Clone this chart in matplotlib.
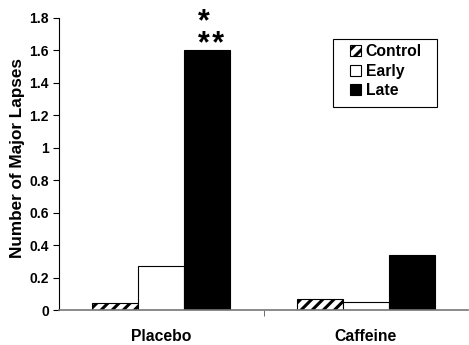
import matplotlib
matplotlib.use("Agg")
import matplotlib.pyplot as plt
from matplotlib.patches import Rectangle
import numpy as np

categories = ["Placebo", "Caffeine"]
series = ["Control", "Early", "Late"]
control = [0.045, 0.066]
early = [0.27, 0.047]
late = [1.6, 0.336]
yticks = [0, 0.2, 0.4, 0.6, 0.8, 1, 1.2, 1.4, 1.6, 1.8]
ytick_labels = ["0", "0.2", "0.4", "0.6", "0.8", "1", "1.2", "1.4", "1.6", "1.8"]
stars = "*\n*\u200a*"

plt.rcParams['font.family'] = ['Liberation Sans', 'DejaVu Sans']
plt.rcParams['hatch.linewidth'] = 2.2

fig = plt.figure(figsize=(4.69, 3.45), dpi=100)
ax = fig.add_axes([0.1258, 0.1014, 0.8722, 0.8466])

x = np.arange(len(categories))
w = 0.225
ax.bar(x - w, control, w, color="white", edgecolor="black", hatch="///", linewidth=0.8, label="Control")
ax.bar(x, early, w, color="white", edgecolor="black", linewidth=0.8, label="Early")
ax.bar(x + w, late, w, color="black", edgecolor="black", linewidth=0.8, label="Late")

# significance stars above the Placebo / Late bar
ax.annotate(stars, xy=(x[0] + w, late[0]), xytext=(2.9, -1.8), textcoords="offset points",
            ha="center", va="baseline", multialignment="left", linespacing=0.66,
            fontsize=22, fontweight="bold")

ax.set_xlim(-0.5, 1.5)
ax.set_ylim(0, 1.8)
ax.set_yticks(yticks)
ax.set_yticklabels(ytick_labels, fontsize=10, fontweight="bold")
ax.set_xticks(x)
ax.set_xticklabels(categories, fontsize=11.3, fontweight="bold")
ax.tick_params(axis="x", length=0, pad=14)
ax.set_xticks([0.5], minor=True)
ax.tick_params(axis="x", which="minor", length=4, color="#555555")
ax.tick_params(axis="y", length=4.3, width=0.8, pad=3)
ax.set_ylabel("Number of Major Lapses", fontsize=12.3, fontweight="bold")
ax.yaxis.set_label_coords(-0.083, 0.52)

for s in ["top", "right"]:
    ax.spines[s].set_visible(False)
ax.spines["left"].set_linewidth(0.8)
ax.spines["bottom"].set_color("#777777")
ax.spines["bottom"].set_linewidth(1.2)

frame = Rectangle((0.670, 0.696), 0.254, 0.232, transform=ax.transAxes, fill=False,
                  edgecolor="black", linewidth=0.8, zorder=5)
ax.add_patch(frame)
leg = ax.legend(loc="upper left", bbox_to_anchor=(0.711, 0.911), frameon=False,
                prop={"weight": "bold", "size": 11.3},
                handlelength=0.7, handleheight=0.7, handletextpad=0.3, labelspacing=0.3,
                borderpad=0, borderaxespad=0)

fig.savefig("out.png", dpi=100)
